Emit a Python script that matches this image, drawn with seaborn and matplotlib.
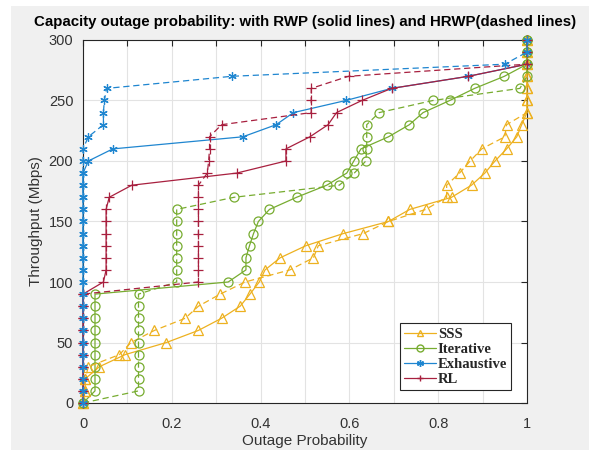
import matplotlib
matplotlib.use("Agg")
import matplotlib.pyplot as plt
from matplotlib.lines import Line2D
from matplotlib.patches import Rectangle
import seaborn as sns
import pandas as pd

# Throughput levels (Mbps) shared by every curve
throughput = [0, 10, 20, 30, 40, 50, 60, 70, 80, 90, 100, 110, 120, 130, 140, 150,
              160, 170, 180, 190, 200, 210, 220, 230, 240, 250, 260, 270, 280, 290, 300]

# Outage probability at each throughput level, RWP (solid) and HRWP (dashed)
sss_rwp = [0, 0.005, 0.005, 0.037, 0.095, 0.188, 0.26, 0.312, 0.354, 0.376, 0.397,
           0.41, 0.444, 0.502, 0.586, 0.688, 0.736, 0.83, 0.875, 0.905, 0.928, 0.954,
           0.977, 0.988, 1, 1, 1, 1, 1, 1, 1]
sss_hrwp = [0, 0.005, 0.005, 0.012, 0.082, 0.108, 0.161, 0.23, 0.26, 0.309, 0.365,
            0.466, 0.519, 0.53, 0.631, 0.688, 0.772, 0.819, 0.819, 0.848, 0.872, 0.898,
            0.95, 0.954, 1, 1, 1, 1, 1, 1, 1]
iter_rwp = [0, 0.027, 0.027, 0.027, 0.027, 0.027, 0.027, 0.027, 0.027, 0.027, 0.327,
            0.367, 0.367, 0.375, 0.384, 0.395, 0.42, 0.481, 0.549, 0.594, 0.61, 0.626,
            0.688, 0.735, 0.766, 0.826, 0.882, 0.949, 1, 1, 1]
iter_hrwp = [0, 0.125, 0.125, 0.125, 0.125, 0.125, 0.125, 0.125, 0.125, 0.125, 0.211,
             0.211, 0.211, 0.211, 0.211, 0.211, 0.211, 0.34, 0.577, 0.611, 0.637, 0.639,
             0.639, 0.639, 0.667, 0.788, 0.984, 1, 1, 1, 1]
exh_rwp = [0, 0, 0, 0, 0, 0, 0, 0, 0, 0, 0, 0, 0, 0, 0, 0, 0, 0, 0, 0, 0.012, 0.067,
           0.36, 0.435, 0.474, 0.592, 0.695, 0.868, 1, 1, 1]
exh_hrwp = [0, 0, 0, 0, 0, 0, 0, 0, 0, 0, 0, 0, 0, 0, 0, 0, 0, 0, 0, 0, 0, 0, 0.012,
            0.046, 0.046, 0.048, 0.053, 0.335, 0.95, 1, 1]
rl_rwp = [0, 0, 0, 0, 0, 0, 0, 0, 0, 0, 0.046, 0.052, 0.052, 0.052, 0.052, 0.052, 0.052,
          0.059, 0.11, 0.346, 0.457, 0.457, 0.511, 0.552, 0.571, 0.628, 0.695, 0.868,
          1, 1, 1]
rl_hrwp = [0, 0, 0, 0, 0, 0, 0, 0, 0, 0, 0.26, 0.26, 0.26, 0.26, 0.26, 0.26, 0.26, 0.26,
           0.26, 0.28, 0.283, 0.285, 0.285, 0.312, 0.514, 0.514, 0.514, 0.598, 1, 1, 1]

methods = ["SSS", "Iterative", "Exhaustive", "RL"]
colors = {"SSS": "#EDB120", "Iterative": "#77AC30", "Exhaustive": "#1f86d0", "RL": "#A8203F"}
markers = {"SSS": "^", "Iterative": "o", "Exhaustive": (6, 2, 0), "RL": "+"}
curves = {
    ("SSS", "RWP"): sss_rwp, ("SSS", "HRWP"): sss_hrwp,
    ("Iterative", "RWP"): iter_rwp, ("Iterative", "HRWP"): iter_hrwp,
    ("Exhaustive", "RWP"): exh_rwp, ("Exhaustive", "HRWP"): exh_hrwp,
    ("RL", "RWP"): rl_rwp, ("RL", "HRWP"): rl_hrwp,
}

sns.set_theme(style="whitegrid")
plt.rcParams["font.family"] = ["Liberation Sans", "DejaVu Sans"]

fig = plt.figure(figsize=(5.89, 4.5), dpi=100, facecolor="#f0f0f0")
# light outer margin at the top and left edge of the window
fig.patches.append(Rectangle((0, 1 - 6 / 450), 1, 6 / 450, transform=fig.transFigure,
                             facecolor="white", edgecolor="none", zorder=-1))
fig.patches.append(Rectangle((0, 0), 11 / 589, 1, transform=fig.transFigure,
                             facecolor="white", edgecolor="none", zorder=-1))

ax = fig.add_axes([83 / 589, 1 - 403 / 450, 444 / 589, 363 / 450])
ax.set_facecolor("white")

draw_order = [("Exhaustive", "RWP"), ("RL", "RWP"), ("SSS", "RWP"), ("Iterative", "RWP"),
              ("SSS", "HRWP"), ("Iterative", "HRWP"), ("RL", "HRWP"), ("Exhaustive", "HRWP")]
for method, mobility in draw_order:
    df = pd.DataFrame({"outage": curves[(method, mobility)], "throughput": throughput})
    c = colors[method]
    ls = "-" if mobility == "RWP" else (0, (5, 3))
    sns.lineplot(data=df, x="outage", y="throughput", ax=ax, sort=False, estimator=None,
                 color=c, linestyle=ls, linewidth=0.9, marker=markers[method],
                 markersize=6.5 if method != "Exhaustive" else 6,
                 markerfacecolor="none", markeredgecolor=c, markeredgewidth=0.9,
                 clip_on=False, zorder=3)

ax.set_xlim(0, 1)
ax.set_ylim(0, 300)
ax.set_xticks([0, 0.1, 0.2, 0.3, 0.4, 0.5, 0.6, 0.7, 0.8, 0.9, 1.0])
ax.set_xticklabels(["0", "", "0.2", "", "0.4", "", "0.6", "", "0.8", "", "1"])
ax.set_yticks([0, 50, 100, 150, 200, 250, 300])
ax.set_yticklabels(["0", "50", "100", "150", "200", "250", "300"])
ax.grid(True, color="#e3e3e3", linewidth=0.8)
ax.tick_params(axis="both", direction="in", length=4, width=0.8, colors="#262626",
               labelsize=10.5, labelcolor="#333333", top=True, right=True)
ax.tick_params(axis="x", pad=10)
ax.tick_params(axis="y", pad=7)
for s in ax.spines.values():
    s.set_color("#262626")
    s.set_linewidth(0.8)

ax.set_xlabel("Outage Probability", fontsize=11, color="#333333", labelpad=2)
ax.set_ylabel("Throughput (Mbps)", fontsize=11, color="#333333", labelpad=4)
ax.set_title("Capacity outage probability: with RWP (solid lines) and HRWP(dashed lines)",
             fontsize=10.8, fontweight="bold", color="black", pad=10)

handles = [Line2D([], [], color=colors[m], marker=markers[m], markersize=5,
                  markerfacecolor="none", markeredgecolor=colors[m], linewidth=0.9)
           for m in methods]
leg = ax.legend(handles, methods, loc="lower right", bbox_to_anchor=(0.965, 0.035),
                prop={"family": "Liberation Serif", "weight": "bold", "size": 10.5},
                frameon=True, fancybox=False, framealpha=1, edgecolor="#262626",
                handlelength=2.2, handletextpad=0.1, labelspacing=0.12,
                borderpad=0.3, borderaxespad=0)
leg.get_frame().set_linewidth(0.8)

fig.savefig("out.png", dpi=100, facecolor=fig.get_facecolor())
